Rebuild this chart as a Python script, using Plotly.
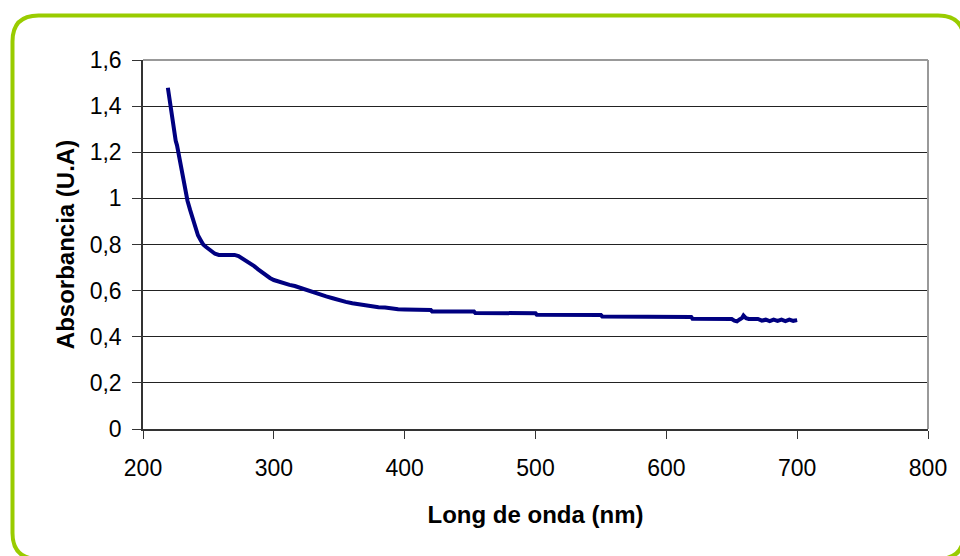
import plotly.graph_objects as go

wavelength = [219, 220, 221, 222, 223, 224, 225, 226, 227, 228, 229, 230, 232, 234, 236, 238, 240, 242,
              244, 246, 248, 250, 252, 255, 258, 262, 266, 270, 273, 276, 279, 282, 285, 288, 291, 294,
              297, 300, 304, 308, 312, 316, 320, 325, 330, 335, 340, 345, 350, 355, 360, 365, 370, 375,
              380, 385, 390, 395, 400, 410, 420, 421, 440, 453, 454, 480, 500, 501, 530, 550, 551, 580,
              600, 619, 620, 640, 650, 652, 654, 656, 658, 659, 661, 663, 666, 670, 673, 676, 679, 682,
              685, 688, 691, 694, 697, 700]
absorbance = [1.48, 1.44, 1.39, 1.34, 1.30, 1.28, 1.25, 1.23, 1.20, 1.16, 1.13, 1.10, 1.05, 0.99, 0.95, 0.91,
              0.87, 0.84, 0.82, 0.80, 0.79, 0.78, 0.77, 0.76, 0.755, 0.755, 0.755, 0.755, 0.75, 0.74, 0.728,
              0.718, 0.706, 0.692, 0.678, 0.666, 0.655, 0.646, 0.638, 0.632, 0.625, 0.620, 0.612, 0.602,
              0.594, 0.584, 0.575, 0.567, 0.558, 0.551, 0.545, 0.540, 0.535, 0.530, 0.528, 0.527, 0.521,
              0.519, 0.518, 0.517, 0.516, 0.510, 0.510, 0.509, 0.503, 0.503, 0.502, 0.495, 0.495, 0.494,
              0.488, 0.488, 0.487, 0.486, 0.478, 0.478, 0.477, 0.470, 0.467, 0.475, 0.482, 0.492, 0.480,
              0.477, 0.477, 0.477, 0.470, 0.474, 0.468, 0.474, 0.469, 0.474, 0.468, 0.474, 0.469, 0.472]

x_ticks = [200, 300, 400, 500, 600, 700, 800]
y_ticks = [0, 0.2, 0.4, 0.6, 0.8, 1.0, 1.2, 1.4, 1.6]
y_tick_labels = ["0", "0,2", "0,4", "0,6", "0,8", "1", "1,2", "1,4", "1,6"]

W, H = 960, 556
L, R, T, B = 143, 32, 60, 127
pw, ph = W - L - R, H - T - B


def px(x):
    return (x - L) / pw


def py(y):
    return (H - B - y) / ph


# rounded green frame (pixel geometry -> paper coords)
x0, x1, y0, y1, r = 12.5, 964, 15.5, 559, 26
frame = (
    f"M {px(x0 + r)},{py(y0)} L {px(x1 - r)},{py(y0)} "
    f"Q {px(x1)},{py(y0)} {px(x1)},{py(y0 + r)} "
    f"L {px(x1)},{py(y1 - r)} Q {px(x1)},{py(y1)} {px(x1 - r)},{py(y1)} "
    f"L {px(x0 + r)},{py(y1)} Q {px(x0)},{py(y1)} {px(x0)},{py(y1 - r)} "
    f"L {px(x0)},{py(y0 + r)} Q {px(x0)},{py(y0)} {px(x0 + r)},{py(y0)} Z"
)

fig = go.Figure()
fig.add_trace(go.Scatter(x=wavelength, y=absorbance, mode="lines",
                         line=dict(color="#000080", width=4), showlegend=False))

font = "Liberation Sans, Arial, sans-serif"
fig.update_layout(
    width=W, height=H,
    margin=dict(l=L, r=R, t=T, b=B),
    paper_bgcolor="white", plot_bgcolor="white",
    font=dict(family=font, color="black", size=23),
    xaxis=dict(range=[200, 800], tickvals=x_ticks, ticks="outside", ticklen=8,
               ticklabelstandoff=10,
               tickcolor="#333", showgrid=False, zeroline=False, showline=True,
               linecolor="#333", linewidth=1.5,
               title=dict(text="<b>Long de onda (nm)</b>", font=dict(size=24), standoff=26),
               tickfont=dict(size=23)),
    yaxis=dict(range=[0, 1.6], tickvals=y_ticks, ticktext=y_tick_labels, ticks="outside",
               ticklen=9, ticklabelstandoff=6,
               tickcolor="#333", showgrid=True, gridcolor="#222", gridwidth=1,
               zeroline=False, showline=True, linecolor="#333", linewidth=1.5,
               title=dict(text="<b>Absorbancia (U.A)</b>", font=dict(size=24), standoff=8),
               tickfont=dict(size=23)),
    shapes=[
        dict(type="line", xref="paper", yref="paper", x0=0, x1=1, y0=1, y1=1,
             line=dict(color="#999", width=2)),
        dict(type="line", xref="paper", yref="paper", x0=1, x1=1, y0=0, y1=1,
             line=dict(color="#999", width=2)),
        dict(type="path", xref="paper", yref="paper", path=frame,
             line=dict(color="#99CC00", width=4), layer="above"),
    ],
)

fig.write_html("out.html", config={"displayModeBar": False},
               post_script="document.body.style.margin='0';document.body.style.overflow='hidden';")
